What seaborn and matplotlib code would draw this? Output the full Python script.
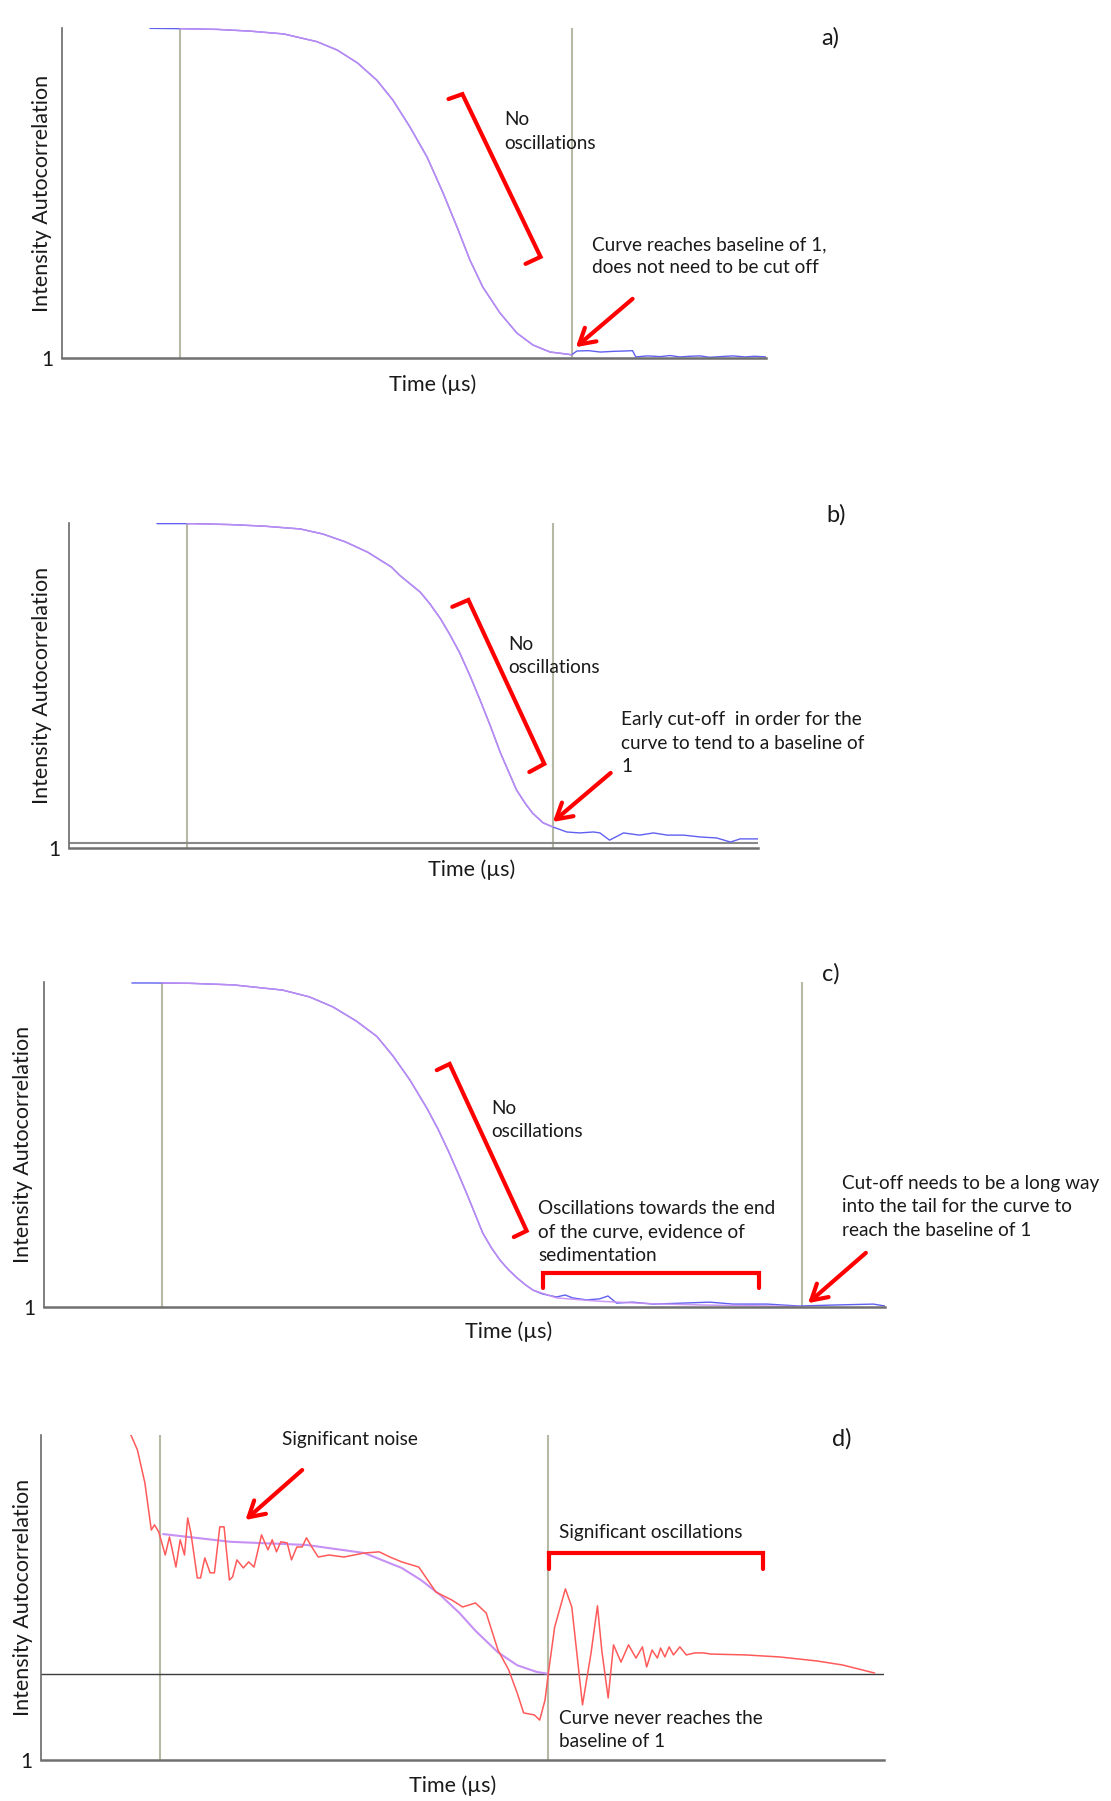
import numpy as np
import matplotlib
matplotlib.use("Agg")
import matplotlib.pyplot as plt
import seaborn as sns
from matplotlib.ticker import LogLocator, NullFormatter, FixedLocator

sns.set_style("white")
plt.rcParams['font.family'] = ['Lato', 'DejaVu Sans']

# lag time given as log10(tau / µs), correlation as g2
# --- panel a
a_data_logt = [-0.15, 0.16, 0.48, 0.79, 1.10, 1.41, 1.60, 1.79, 1.97, 2.12, 2.28, 2.44, 2.59, 2.72, 2.84,
               2.96, 3.12, 3.28, 3.43, 3.59, 3.75, 3.79, 3.84, 3.95, 4.06, 4.18, 4.29, 4.36, 4.39, 4.50,
               4.62, 4.71, 4.80, 4.90, 4.99, 5.08, 5.18, 5.30, 5.41, 5.50, 5.61]
a_data_g2 = [1.942, 1.941, 1.939, 1.934, 1.926, 1.904, 1.880, 1.843, 1.794, 1.737, 1.660, 1.574, 1.471, 1.374,
             1.280, 1.203, 1.129, 1.071, 1.037, 1.017, 1.011, 1.009, 1.020, 1.021, 1.017, 1.019, 1.020, 1.021,
             1.003, 1.006, 1.004, 1.007, 1.003, 1.005, 1.006, 1.002, 1.004, 1.006, 1.003, 1.005, 1.003]
a_fit_logt = [0.13, 0.48, 0.79, 1.10, 1.41, 1.60, 1.79, 1.97, 2.12, 2.28, 2.44, 2.59, 2.72, 2.84, 2.96,
              3.12, 3.28, 3.43, 3.59, 3.75, 3.79]
a_fit_g2 = [1.941, 1.939, 1.934, 1.926, 1.904, 1.880, 1.843, 1.794, 1.737, 1.660, 1.574, 1.471, 1.374, 1.280,
            1.203, 1.129, 1.071, 1.037, 1.017, 1.011, 1.009]
a_cutoffs = [0.13, 3.79]

# --- panel b
b_data_logt = [-0.15, 0.20, 0.53, 0.85, 1.19, 1.40, 1.61, 1.82, 2.04, 2.12, 2.31, 2.40, 2.50, 2.59, 2.68,
               2.78, 2.87, 2.97, 3.06, 3.14, 3.21, 3.29, 3.36, 3.46, 3.55, 3.68, 3.80, 3.93, 3.99, 4.08,
               4.21, 4.36, 4.49, 4.62, 4.77, 4.93, 5.08, 5.21, 5.30, 5.47]
b_data_g2 = [2.033, 2.033, 2.030, 2.025, 2.016, 2.000, 1.975, 1.942, 1.895, 1.868, 1.815, 1.778, 1.730, 1.678,
             1.621, 1.545, 1.471, 1.385, 1.303, 1.240, 1.185, 1.143, 1.111, 1.080, 1.067, 1.051, 1.048, 1.051,
             1.048, 1.025, 1.048, 1.041, 1.048, 1.041, 1.041, 1.035, 1.032, 1.019, 1.029, 1.029]
b_fit_logt = [0.13, 0.53, 0.85, 1.19, 1.40, 1.61, 1.82, 2.04, 2.12, 2.31, 2.40, 2.50, 2.59, 2.68, 2.78,
              2.87, 2.97, 3.06, 3.14, 3.21, 3.29, 3.36, 3.46, 3.55]
b_fit_g2 = [2.033, 2.030, 2.025, 2.016, 2.000, 1.975, 1.942, 1.895, 1.868, 1.815, 1.778, 1.730, 1.678, 1.621,
            1.545, 1.471, 1.385, 1.303, 1.240, 1.185, 1.143, 1.111, 1.080, 1.067]
b_cutoffs = [0.13, 3.55]
b_baseline = 1.016

# --- panel c
c_data_logt = [-0.16, 0.01, 0.38, 0.79, 1.25, 1.50, 1.72, 1.94, 2.13, 2.28, 2.44, 2.60, 2.70, 2.80, 2.89,
               2.97, 3.05, 3.12, 3.20, 3.28, 3.36, 3.44, 3.52, 3.59, 3.68, 3.81, 3.89, 3.96, 4.09, 4.21,
               4.29, 4.37, 4.52, 4.71, 4.99, 5.24, 5.46, 5.78, 6.08, 6.39, 6.77, 6.88]
c_data_g2 = [2.000, 2.000, 1.999, 1.994, 1.978, 1.957, 1.926, 1.882, 1.835, 1.775, 1.700, 1.612, 1.550, 1.480,
             1.412, 1.350, 1.285, 1.228, 1.183, 1.145, 1.115, 1.090, 1.068, 1.052, 1.040, 1.031, 1.037, 1.028,
             1.022, 1.025, 1.034, 1.012, 1.015, 1.009, 1.012, 1.015, 1.009, 1.009, 1.003, 1.006, 1.009, 1.003]
c_fit_logt = [0.12, 0.38, 0.79, 1.25, 1.50, 1.72, 1.94, 2.13, 2.28, 2.44, 2.60, 2.70, 2.80, 2.89, 2.97,
              3.05, 3.12, 3.20, 3.28, 3.36, 3.44, 3.52, 3.59, 3.81, 4.20, 4.70, 5.20, 5.80, 6.10]
c_fit_g2 = [2.000, 1.999, 1.994, 1.978, 1.957, 1.926, 1.882, 1.835, 1.775, 1.700, 1.612, 1.550, 1.480, 1.412,
            1.350, 1.285, 1.228, 1.183, 1.145, 1.115, 1.090, 1.068, 1.052, 1.028, 1.018, 1.010, 1.006, 1.003,
            1.001]
c_cutoffs = [0.12, 6.10]

# --- panel d
d_data_logt = [-0.16, -0.09, -0.02, 0.04, 0.07, 0.11, 0.17, 0.21, 0.27, 0.31, 0.35, 0.38, 0.41, 0.47, 0.50,
               0.54, 0.59, 0.63, 0.68, 0.72, 0.77, 0.80, 0.84, 0.90, 0.95, 1.00, 1.07, 1.13, 1.17, 1.21,
               1.25, 1.31, 1.35, 1.40, 1.45, 1.49, 1.54, 1.60, 1.70, 1.84, 2.03, 2.17, 2.27, 2.38, 2.54,
               2.70, 2.85, 2.95, 3.07, 3.17, 3.28, 3.38, 3.46, 3.52, 3.62, 3.67, 3.72, 3.75, 3.81, 3.91,
               3.97, 4.07, 4.15, 4.21, 4.25, 4.31, 4.36, 4.43, 4.50, 4.57, 4.63, 4.67, 4.72, 4.77, 4.80,
               4.84, 4.88, 4.92, 4.98, 5.04, 5.12, 5.20, 5.27, 5.59, 5.91, 6.26, 6.50, 6.80]
d_data_g2 = [2.140, 2.080, 1.965, 1.801, 1.819, 1.794, 1.714, 1.777, 1.672, 1.767, 1.714, 1.843, 1.791, 1.634,
             1.634, 1.704, 1.652, 1.652, 1.812, 1.812, 1.627, 1.638, 1.697, 1.669, 1.690, 1.672, 1.784, 1.732,
             1.767, 1.725, 1.760, 1.756, 1.697, 1.742, 1.742, 1.774, 1.742, 1.707, 1.714, 1.707, 1.721, 1.725,
             1.707, 1.690, 1.672, 1.585, 1.557, 1.533, 1.547, 1.512, 1.383, 1.314, 1.233, 1.164, 1.157, 1.139,
             1.209, 1.300, 1.463, 1.596, 1.533, 1.192, 1.373, 1.537, 1.383, 1.216, 1.401, 1.341, 1.401, 1.355,
             1.394, 1.324, 1.383, 1.355, 1.390, 1.359, 1.394, 1.366, 1.394, 1.366, 1.373, 1.373, 1.369, 1.366,
             1.359, 1.345, 1.331, 1.303]
d_fit_logt = [0.15, 0.78, 1.49, 2.03, 2.38, 2.56, 2.74, 2.92, 3.07, 3.28, 3.46, 3.64, 3.75]
d_fit_g2 = [1.787, 1.760, 1.749, 1.721, 1.669, 1.627, 1.575, 1.512, 1.450, 1.375, 1.330, 1.307, 1.300]
d_cutoffs = [0.12, 3.75]
d_baseline = 1.300

FIG_W, FIG_H = 1111, 1801
DATA_BLUE = '#6060f0'
FIT_VIOLET = '#c690f4'
NOISY_RED = '#ff5a5a'
CUT_GRAY = '#b6b9a4'
RED = '#ff0000'
TXT = '#1a1a1a'
FS = 13.7
LAB_FS = 15.5


def make_axes(fig, left, top, right, bottom):
    return fig.add_axes([left / FIG_W, 1 - bottom / FIG_H, (right - left) / FIG_W, (bottom - top) / FIG_H])


def style(ax, xlim, ylim, yminor, ylab_x, xlab_x, xlab_y):
    ax.set_xscale('log')
    ax.set_xlim(10 ** xlim[0], 10 ** xlim[1])
    ax.set_ylim(*ylim)
    for s in ['top', 'right']:
        ax.spines[s].set_visible(False)
    ax.spines['left'].set_color('#6a6a6a')
    ax.spines['left'].set_linewidth(1.2)
    ax.spines['bottom'].set_color('#707070')
    ax.spines['bottom'].set_linewidth(1.8)
    ax.xaxis.set_major_locator(LogLocator(base=10))
    ax.xaxis.set_minor_locator(LogLocator(base=10, subs=np.arange(2, 10)))
    ax.xaxis.set_major_formatter(NullFormatter())
    ax.xaxis.set_minor_formatter(NullFormatter())
    ax.tick_params(axis='x', which='major', direction='out', length=4, width=1.0, color='#333333')
    ax.tick_params(axis='x', which='minor', direction='out', length=3, width=0.8, color='#444444')
    ax.set_yticks([ylim[0]])
    ax.set_yticklabels(['1'])
    ax.yaxis.set_minor_locator(FixedLocator(yminor))
    ax.tick_params(axis='y', which='major', length=0, pad=6, labelsize=15, labelcolor=TXT)
    ax.tick_params(axis='y', which='minor', direction='out', length=3, width=0.9, color='#444444')
    ax.set_ylabel('Intensity Autocorrelation', fontsize=LAB_FS, color=TXT)
    ax.yaxis.set_label_coords(ylab_x, 0.5)
    ax.set_xlabel('Time (µs)', fontsize=LAB_FS, color=TXT)
    ax.xaxis.set_label_coords(xlab_x, xlab_y)
    ax.grid(False)


def lines(ax, dx, dy, fx, fy):
    sns.lineplot(x=10 ** np.array(dx), y=dy, ax=ax, color=DATA_BLUE, lw=1.0, sort=False, estimator=None)
    sns.lineplot(x=10 ** np.array(fx), y=fy, ax=ax, color=FIT_VIOLET, lw=1.1, alpha=0.9, sort=False,
                 estimator=None)


def cutoffs(ax, cuts):
    for c in cuts:
        ax.axvline(10 ** c, color=CUT_GRAY, lw=1.5, zorder=0)


def bracket(ax, pts):
    xs = [10 ** p[0] for p in pts]
    ys = [p[1] for p in pts]
    ax.plot(xs, ys, color=RED, lw=3, solid_joinstyle='miter', clip_on=False)


def arrow(ax, tail, head):
    ax.annotate('', xy=(10 ** head[0], head[1]), xytext=(10 ** tail[0], tail[1]),
                arrowprops=dict(arrowstyle='->,head_length=0.55,head_width=0.32', color=RED, lw=3,
                                shrinkA=0, shrinkB=0, mutation_scale=20),
                annotation_clip=False)


def note(ax, x, y, s, ha='left', fs=FS, va='center'):
    ax.text(10 ** x, y, s, ha=ha, va=va, fontsize=fs, color=TXT, linespacing=1.45, clip_on=False)


fig = plt.figure(figsize=(FIG_W / 100, FIG_H / 100), dpi=100)

# panel a
ax = make_axes(fig, 62, 28, 766, 358)
style(ax, (-0.972, 5.607), (1.0, 1.943), np.arange(1.1, 1.94, 0.1), -0.014, 0.526, -0.050)
cutoffs(ax, a_cutoffs)
lines(ax, a_data_logt, a_data_g2, a_fit_logt, a_fit_g2)
bracket(ax, [(2.64, 1.740), (2.77, 1.754), (3.50, 1.289), (3.36, 1.269)])
note(ax, 3.16, 1.647, 'No\noscillations')
note(ax, 3.98, 1.291, 'Curve reaches baseline of 1,\ndoes not need to be cut off')
arrow(ax, (4.36, 1.169), (3.83, 1.031))
note(ax, 6.21, 1.914, 'a)', ha='center', fs=17)

# panel b
ax = make_axes(fig, 69, 523, 758, 848)
style(ax, (-0.972, 5.467), (1.0, 2.035), np.arange(1.116, 2.03, 0.1), -0.024, 0.585, -0.034)
ax.axhline(b_baseline, color='#8a8a8a', lw=1.5, zorder=1)
cutoffs(ax, b_cutoffs)
lines(ax, b_data_logt, b_data_g2, b_fit_logt, b_fit_g2)
bracket(ax, [(2.61, 1.768), (2.76, 1.790), (3.47, 1.268), (3.33, 1.242)])
note(ax, 3.13, 1.611, 'No\noscillations')
note(ax, 4.19, 1.334, 'Early cut-off  in order for the\ncurve to tend to a baseline of\n1')
arrow(ax, (4.09, 1.239), (3.55, 1.083))
note(ax, 6.20, 2.061, 'b)', ha='center', fs=17)

# panel c
ax = make_axes(fig, 44, 982, 885, 1307)
style(ax, (-0.981, 6.879), (1.0, 2.003), np.arange(1.1, 2.0, 0.1), -0.013, 0.552, -0.044)
cutoffs(ax, c_cutoffs)
lines(ax, c_data_logt, c_data_g2, c_fit_logt, c_fit_g2)
bracket(ax, [(2.69, 1.731), (2.81, 1.750), (3.53, 1.235), (3.41, 1.216)])
note(ax, 3.20, 1.577, 'No\noscillations')
note(ax, 3.64, 1.231, 'Oscillations towards the end\nof the curve, evidence of\nsedimentation')
bracket(ax, [(3.68, 1.059), (3.68, 1.105), (5.70, 1.105), (5.70, 1.059)])
note(ax, 6.48, 1.309, 'Cut-off needs to be a long way\ninto the tail for the curve to\nreach the baseline of 1')
arrow(ax, (6.70, 1.167), (6.16, 1.012))
note(ax, 6.37, 2.028, 'c)', ha='center', fs=17)

# panel d
ax = make_axes(fig, 41, 1435, 884, 1760)
style(ax, (-0.991, 6.888), (1.0, 2.132), np.arange(1.05, 2.13, 0.05), -0.010, 0.488, -0.047)
ax.axhline(d_baseline, color='#3c3c3c', lw=1.0, zorder=1)
cutoffs(ax, d_cutoffs)
sns.lineplot(x=10 ** np.array(d_fit_logt), y=d_fit_g2, ax=ax, color=FIT_VIOLET, lw=1.5, sort=False, estimator=None)
sns.lineplot(x=10 ** np.array(d_data_logt), y=d_data_g2, ax=ax, color=NOISY_RED, lw=1.1, sort=False, estimator=None)
note(ax, 1.90, 2.115, 'Significant noise', ha='center')
arrow(ax, (1.45, 2.010), (0.92, 1.836))
note(ax, 3.85, 1.794, 'Significant oscillations')
bracket(ax, [(3.76, 1.666), (3.76, 1.721), (5.76, 1.721), (5.76, 1.666)])
note(ax, 3.85, 1.105, 'Curve never reaches the\nbaseline of 1')
note(ax, 6.49, 2.118, 'd)', ha='center', fs=17)

fig.savefig('out.png', dpi=100)
